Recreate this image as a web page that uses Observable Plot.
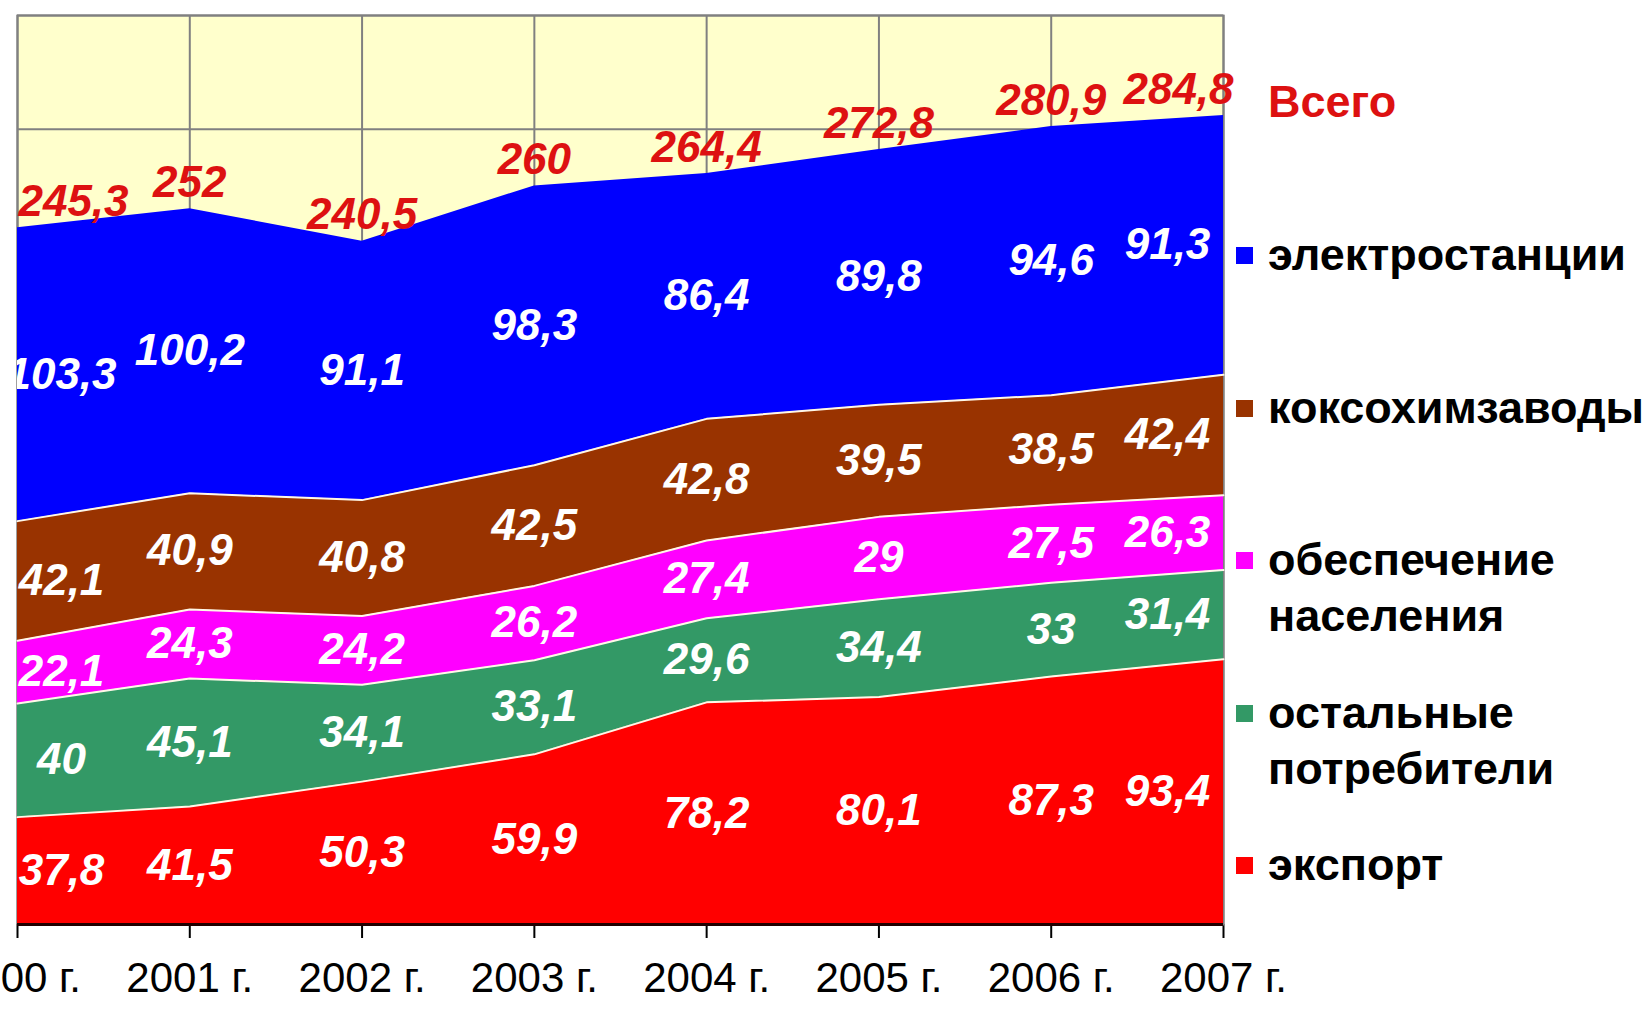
<!DOCTYPE html>
<html>
<head>
<meta charset="utf-8">
<script src="https://cdn.jsdelivr.net/npm/d3@7"></script>
<script src="https://cdn.jsdelivr.net/npm/@observablehq/plot@0.6"></script>
<style>
  body { margin: 0; background: #ffffff; }
  #wrap { position: relative; width: 1646px; height: 1009px; overflow: hidden; background: #ffffff; }
  #chart svg { display: block; }
  #legend { position: absolute; left: 0; top: 0; font-family: "Liberation Sans", Arial, sans-serif; font-weight: bold; }
  .item { position: absolute; left: 1268px; font-size: 45px; line-height: 56px; color: #000; white-space: nowrap; }
  .sw { position: absolute; left: 1236px; width: 17px; height: 17px; }
  #chart g[aria-label="x-axis tick"] path { stroke-width: 2px; }
</style>
</head>
<body>
<div id="wrap">
  <div id="chart"></div>
  <div id="legend"></div>
</div>
<script>
// ---- data ----
const years = [2000, 2001, 2002, 2003, 2004, 2005, 2006, 2007];
const seriesNames = ["экспорт", "остальные потребители", "обеспечение населения", "коксохимзаводы", "электростанции"];
const exportValues     = [37.8, 41.5, 50.3, 59.9, 78.2, 80.1, 87.3, 93.4];
const otherValues      = [40, 45.1, 34.1, 33.1, 29.6, 34.4, 33, 31.4];
const populationValues = [22.1, 24.3, 24.2, 26.2, 27.4, 29, 27.5, 26.3];
const cokeValues       = [42.1, 40.9, 40.8, 42.5, 42.8, 39.5, 38.5, 42.4];
const powerValues      = [103.3, 100.2, 91.1, 98.3, 86.4, 89.8, 94.6, 91.3];
const totalValues      = [245.3, 252, 240.5, 260, 264.4, 272.8, 280.9, 284.8];
const totalLabel = "Всего";
const seriesColors = ["#ff0000", "#339966", "#ff00ff", "#993300", "#0000ff"];
const yGrid = [40, 80, 120, 160, 200, 240, 280, 320];

// ---- build stacked table ----
const seriesValues = [exportValues, otherValues, populationValues, cokeValues, powerValues];
const rows = [];
years.forEach((yr, j) => {
  let base = 0;
  seriesValues.forEach((vals, i) => {
    const v = vals[j];
    rows.push({year: yr, series: seriesNames[i], value: v, y1: base, y2: base + v, mid: base + v / 2, idx: j});
    base += v;
  });
});
const totals = years.map((yr, j) => ({year: yr, value: totalValues[j], idx: j}));
const fmt = v => String(v).replace(".", ",");
const first = years[0], last = years[years.length - 1];

const labelFont = {fontSize: 44, fontWeight: "bold", fontStyle: "italic", fill: "white"};
const totalFont = {fontSize: 44, fontWeight: "bold", fontStyle: "italic", fill: "#dd1111"};

const chart = Plot.plot({
  width: 1646,
  height: 1009,
  marginLeft: 17,
  marginRight: 423,
  marginTop: 15,
  marginBottom: 85,
  style: {fontFamily: "'Liberation Sans', Arial, sans-serif", fontSize: "42px", background: "transparent", color: "black"},
  x: {domain: [first, last], ticks: years, tickFormat: d => d + " г.", tickSize: 14, tickPadding: 24, label: null},
  y: {domain: [0, 320], axis: null},
  color: {domain: seriesNames, range: seriesColors},
  marks: [
    Plot.frame({fill: "#ffffcc"}),
    Plot.ruleY(yGrid, {stroke: "#808080", strokeWidth: 2}),
    Plot.ruleX(years, {stroke: "#808080", strokeWidth: 2}),
    Plot.frame({stroke: "#808080", strokeWidth: 2}),
    Plot.areaY(rows, {x: "year", y1: "y1", y2: "y2", z: "series", fill: "series"}),
    Plot.lineY(rows.filter(d => d.series !== seriesNames[seriesNames.length - 1]), {x: "year", y: "y2", z: "series", stroke: "#fff8e8", strokeWidth: 2}),
    Plot.ruleY([0], {stroke: "#200000", strokeWidth: 3}),
    // data labels
    Plot.text(rows.filter(d => d.year === first), {x: "year", y: "mid", text: d => fmt(d.value), dx: 44, clip: true, ...labelFont}),
    Plot.text(rows.filter(d => d.year !== first && d.year !== last), {x: "year", y: "mid", text: d => fmt(d.value), ...labelFont}),
    Plot.text(rows.filter(d => d.year === last), {x: "year", y: "mid", text: d => fmt(d.value), dx: -56, ...labelFont}),
    // totals
    Plot.text(totals.filter(d => d.year === first), {x: "year", y: "value", text: d => fmt(d.value), dx: 56, dy: -26, ...totalFont}),
    Plot.text(totals.filter(d => d.year !== first && d.year !== last), {x: "year", y: "value", text: d => fmt(d.value), dy: -26, ...totalFont}),
    Plot.text(totals.filter(d => d.year === last), {x: "year", y: "value", text: d => fmt(d.value), dx: -45, dy: -26, ...totalFont})
  ]
});
document.getElementById("chart").appendChild(chart);

// ---- legend (right side) ----
const legend = document.getElementById("legend");
const tot = document.createElement("div");
tot.className = "item";
tot.style.top = "74px";
tot.style.color = "#dd1111";
tot.textContent = totalLabel;
legend.appendChild(tot);
seriesNames.slice().reverse().forEach((name, i) => {
  const top = 227 + i * 152.5;
  const color = seriesColors[seriesNames.length - 1 - i];
  const sw = document.createElement("div");
  sw.className = "sw";
  sw.style.top = (top + 20) + "px";
  sw.style.background = color;
  legend.appendChild(sw);
  const it = document.createElement("div");
  it.className = "item";
  it.style.top = top + "px";
  it.innerHTML = name.split(" ").join("<br>");
  legend.appendChild(it);
});
</script>
</body>
</html>
